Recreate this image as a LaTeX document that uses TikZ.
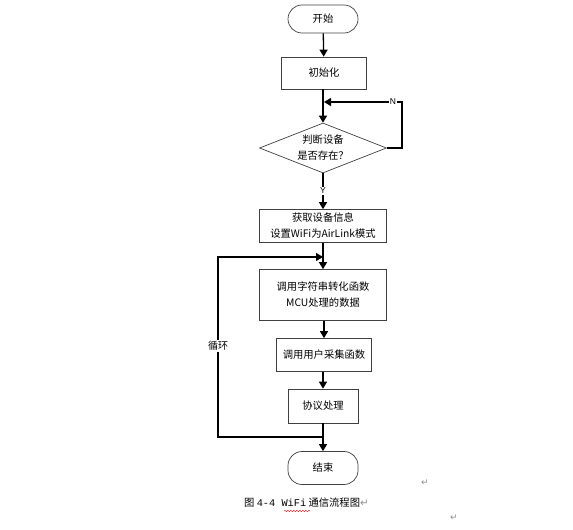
\documentclass[tikz,border=0pt]{standalone}
\usepackage{fontspec}
\setmainfont{Liberation Sans}
\newfontfamily\cjk{Noto Sans CJK SC}
\newfontfamily\monof{Liberation Mono}
\newfontfamily\symf{DejaVu Sans}
\usetikzlibrary{shapes.geometric,arrows.meta,decorations.pathmorphing}
\begin{document}
\begin{tikzpicture}[x=1pt,y=-1pt,
  box/.style={draw=black!75,line width=0.7pt,rectangle,align=center,inner sep=0pt,font=\cjk\fontsize{10.3}{16}\selectfont},
  term/.style={box,rounded corners=14pt},
  dec/.style={box,diamond,aspect=2.5},
  conn/.style={line width=1.3pt,-{Triangle[length=7pt,width=8pt]}},
  lbl/.style={fill=white,inner sep=1pt,font=\fontsize{8.5}{10}\selectfont},
  pmark/.style={text=black!45,font=\symf\fontsize{9}{10}\selectfont,inner sep=0pt}]
\useasboundingbox (0,0) rectangle (573,530);
\node[term,minimum width=70pt,minimum height=28pt] (start) at (323,19) {开始};
\node[box,minimum width=85pt,minimum height=32pt] (init) at (324,73) {初始化};
\node[dec,minimum width=127pt,minimum height=50pt] (chk) at (323,148) {判断设备\\是否存在？};
\node[box,minimum width=127pt,minimum height=33pt] (get) at (323,226) {获取设备信息\\设置WiFi为AirLink模式};
\node[box,minimum width=127pt,minimum height=51pt] (conv) at (323,295) {调用字符串转化函数\\MCU处理的数据};
\node[box,minimum width=95pt,minimum height=33pt] (coll) at (324,355) {调用用户采集函数};
\node[box,minimum width=70pt,minimum height=34pt] (proto) at (323,406) {协议处理};
\node[term,minimum width=70pt,minimum height=33pt] (stop) at (323,468) {结束};
\coordinate (nr) at (402,102);
\coordinate (nj) at (324,102);
\coordinate (lj) at (323,257);
\coordinate (ll) at (218,257);
\coordinate (lb) at (218,437);
\coordinate (lr) at (323,437);
\draw[conn] (start) -- (init);
\draw[conn] (init.south -| chk.north) -- (chk.north);
\draw[conn] (chk.east) -- (chk.east -| nr) -- (nr) -- (nj);
\draw[conn] (chk.south) -- (get.north);
\draw[conn] (get.south) -- (conv.north);
\draw[conn] (conv.south -| coll.north) -- (coll.north);
\draw[conn] (coll.south -| proto.north) -- (proto.north);
\draw[conn] (proto.south) -- (stop.north);
\draw[conn] (lr) -- (lb) -- (ll) -- (lj);
\node[lbl] (nl) at (393,102) {N};
\node[lbl] (yl) at (323,191) {Y};
\node[lbl,font=\cjk\fontsize{10}{10}\selectfont] (loop) at (218,346) {循环};
\node[anchor=west,inner sep=0pt,font=\cjk\fontsize{10.3}{10}\selectfont] (cap) at (244,503) {图 {\monof 4-4 WiFi} 通信流程图\symf\color{black!45}↵};
\draw[red,line width=0.4pt,decorate,decoration={snake,amplitude=0.7pt,segment length=3pt}] (284,511) -- (310,511);
\node[pmark] (p1) at (425,483) {↵};
\node[pmark] (p2) at (454,518) {↵};
\end{tikzpicture}
\end{document}
